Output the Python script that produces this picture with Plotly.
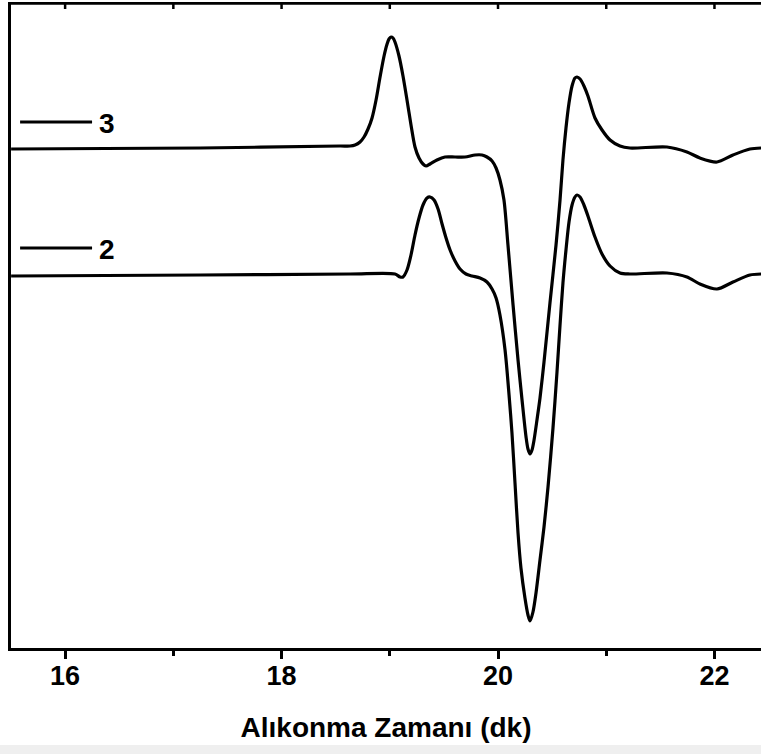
import plotly.graph_objects as go

# Retention time (min) and detector response for sample 3
time_3 = [15.501, 17.247, 18.540, 18.633, 18.679, 18.725, 18.762, 18.799, 18.836, 18.873,
          18.910, 18.947, 18.975, 18.993, 19.012, 19.030, 19.048, 19.085, 19.122, 19.159,
          19.196, 19.233, 19.270, 19.307, 19.335, 19.372, 19.436, 19.510, 19.603, 19.695,
          19.788, 19.852, 19.898, 19.945, 19.982, 20.018, 20.055, 20.092, 20.139, 20.185,
          20.222, 20.259, 20.277, 20.296, 20.314, 20.333, 20.360, 20.388, 20.425, 20.480,
          20.536, 20.573, 20.600, 20.628, 20.656, 20.684, 20.711, 20.730, 20.758, 20.794,
          20.831, 20.896, 20.961, 21.035, 21.127, 21.219, 21.561, 21.746, 21.866, 22.023,
          22.171, 22.328, 22.430]
signal_3 = [-1, 0, 2, 2, 3, 6, 11, 19, 30, 48,
            71, 92, 104, 109, 111, 110, 106, 92, 72, 48,
            23, 1, -10, -16, -18, -16, -12, -9, -9, -9,
            -7, -7, -9, -13, -20, -32, -52, -97, -157, -212,
            -252, -289, -301, -306, -302, -292, -272, -250, -214, -155,
            -97, -52, -12, 20, 45, 62, 70, 71, 69, 62,
            52, 30, 18, 8, 2, 0, 1, -4, -10, -14,
            -7, -1, 0]

# Retention time (min) and detector response for sample 2
time_2 = [15.501, 17.247, 18.633, 19.048, 19.095, 19.122, 19.159, 19.196, 19.233, 19.270,
          19.307, 19.344, 19.372, 19.409, 19.446, 19.483, 19.520, 19.557, 19.603, 19.649,
          19.704, 19.760, 19.834, 19.898, 19.945, 19.982, 20.018, 20.065, 20.102, 20.129,
          20.157, 20.185, 20.212, 20.249, 20.277, 20.296, 20.323, 20.351, 20.388, 20.425,
          20.462, 20.508, 20.545, 20.573, 20.600, 20.628, 20.656, 20.684, 20.711, 20.730,
          20.758, 20.794, 20.831, 20.896, 20.961, 21.035, 21.127, 21.219, 21.561, 21.746,
          21.866, 22.023, 22.171, 22.328, 22.430]
signal_2 = [-2, -1, 0, 0, -3, -3, 4, 19, 39, 56,
            69, 76, 77, 74, 65, 50, 36, 24, 13, 5,
            0, -2, -4, -8, -15, -24, -41, -76, -121, -159,
            -209, -259, -294, -324, -341, -347, -338, -319, -286, -253,
            -213, -154, -98, -51, -9, 24, 52, 69, 77, 79,
            77, 69, 58, 37, 20, 8, 1, 0, 1, -3,
            -10, -15, -8, -1, 0]

# Vertical stacking of the chromatograms
offset_3 = 500
offset_2 = 374

series_labels = ["3", "2"]

x_range = [15.5, 22.43]
y_range = [0, 646]
top_ticks = [16, 17, 18, 19, 20, 21, 22]

FONT = "Liberation Sans, Arial, sans-serif"
LINE_W = 3.2

fig = go.Figure()

for t, s, off, name in [(time_3, signal_3, offset_3, series_labels[0]),
                        (time_2, signal_2, offset_2, series_labels[1])]:
    fig.add_trace(go.Scatter(
        x=t, y=[v + off for v in s], mode="lines", name=name,
        line=dict(color="black", width=LINE_W, shape="spline", smoothing=0.8),
        showlegend=False, hoverinfo="skip",
    ))

# series keys: short line + number
for off, label in zip([offset_3, offset_2], series_labels):
    y_key = off + 26
    fig.add_shape(type="line", xref="x", yref="y",
                  x0=15.584, x1=16.249, y0=y_key, y1=y_key,
                  line=dict(color="black", width=2.8))
    fig.add_annotation(x=16.39, y=y_key - 1, xref="x", yref="y",
                       text=label, showarrow=False, xanchor="center", yanchor="middle",
                       font=dict(family=FONT, size=28, color="black", weight="bold"))

# top frame with inward ticks
fig.add_shape(type="line", xref="paper", yref="y",
              x0=-0.004, x1=1, y0=y_range[1] - 1, y1=y_range[1] - 1,
              line=dict(color="black", width=3.5))
for tx in top_ticks:
    fig.add_shape(type="line", xref="x", yref="y",
                  x0=tx, x1=tx, y0=y_range[1], y1=y_range[1] - 7,
                  line=dict(color="black", width=2.5))

# light band at the very bottom
fig.add_shape(type="rect", xref="paper", yref="paper",
              x0=-0.02, x1=1.0, y0=-0.165, y1=-0.150,
              fillcolor="#efefef", line=dict(width=0), layer="below")

fig.update_layout(
    width=761, height=754,
    margin=dict(l=11, r=0, t=2, b=106),
    paper_bgcolor="white", plot_bgcolor="white",
    xaxis=dict(
        range=x_range, tick0=16, dtick=2, ticks="outside", ticklen=8, tickwidth=2.5,
        tickcolor="black", showline=True, linecolor="black", linewidth=3,
        showgrid=False, zeroline=False, ticklabelstandoff=-6,
        tickfont=dict(family=FONT, size=27, color="black", weight="bold"),
        minor=dict(ticks="outside", ticklen=5, tickwidth=2.5, tickcolor="black",
                   tick0=16, dtick=1, showgrid=False),
        title=dict(text="Alıkonma Zamanı (dk)", standoff=27,
                   font=dict(family=FONT, size=28, color="black", weight="bold")),
    ),
    yaxis=dict(
        range=y_range, showticklabels=False, ticks="", showgrid=False,
        zeroline=False, showline=True, linecolor="black", linewidth=3,
    ),
)

fig.write_html("out.html")
